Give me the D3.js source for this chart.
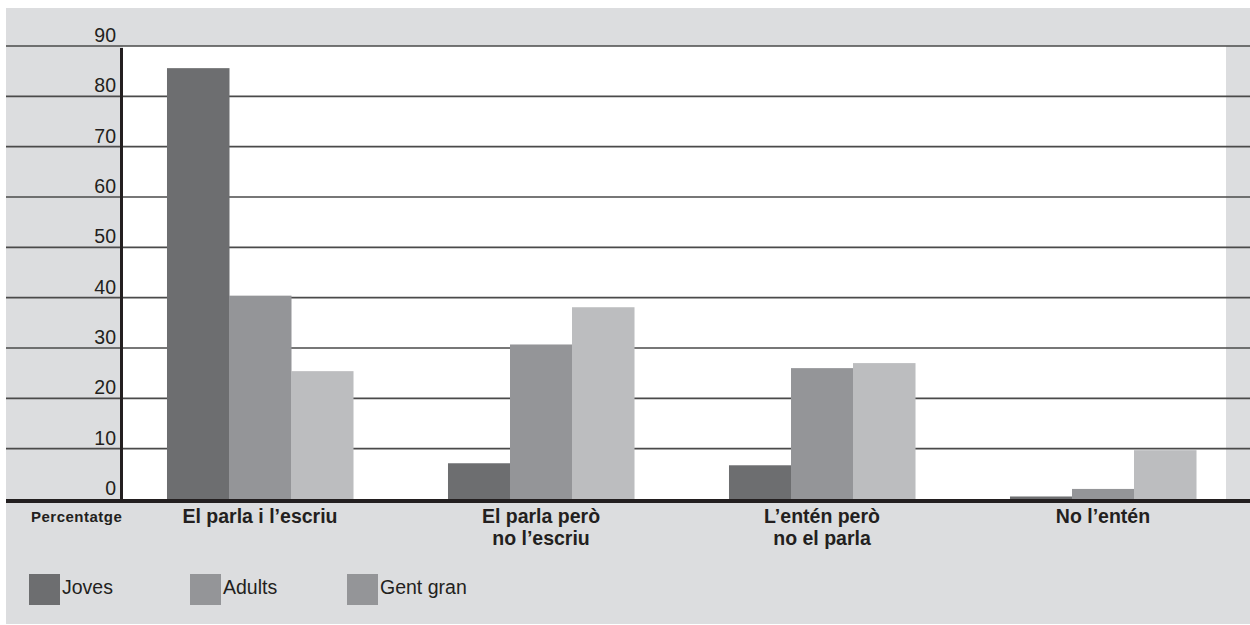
<!DOCTYPE html>
<html>
<head>
<meta charset="utf-8">
<script src="https://cdn.jsdelivr.net/npm/d3@7"></script>
<style>
  html, body { margin: 0; padding: 0; background: #ffffff; }
  svg { display: block; }
</style>
</head>
<body>
<svg id="chart" width="1250" height="625"></svg>
<script>
// ---- Data ----
const categories = [
  ["El parla i l\u2019escriu"],
  ["El parla però", "no l\u2019escriu"],
  ["L\u2019entén però", "no el parla"],
  ["No l\u2019entén"]
];
const series = ["Joves", "Adults", "Gent gran"];
const joves    = [85.6, 7.1, 6.7, 0.5];
const adults   = [40.4, 30.7, 26.0, 2.0];
const gentGran = [25.4, 38.1, 27.0, 9.7];
const yTicks = [0, 10, 20, 30, 40, 50, 60, 70, 80, 90];
const axisLabel = "Percentatge";

const barColors = ["#6d6e70", "#949598", "#bcbdbf"];
const legendColors = ["#6d6e70", "#949598", "#949598"];

const values = [joves, adults, gentGran];

// ---- Layout ----
const svg = d3.select("#chart");
const W = 1250, H = 625;
const bgLeft = 6, bgTop = 8, bgBottom = 624;
const plotLeft = 123, plotRight = 1226, plotTop = 46, plotBottom = 499;

const y = d3.scaleLinear().domain([0, 90]).range([plotBottom, plotTop]);
const x0 = d3.scaleBand()
  .domain(d3.range(categories.length))
  .range([119.5, 1243.5])
  .paddingInner(0.338)
  .paddingOuter(0.169);
const x1 = d3.scaleBand()
  .domain(d3.range(series.length))
  .range([0, x0.bandwidth()])
  .padding(0);

// background
svg.append("rect")
  .attr("x", bgLeft).attr("y", bgTop)
  .attr("width", W - bgLeft).attr("height", bgBottom - bgTop)
  .attr("fill", "#dcdddf");

// white plot area
svg.append("rect")
  .attr("x", plotLeft).attr("y", plotTop)
  .attr("width", plotRight - plotLeft).attr("height", plotBottom - plotTop)
  .attr("fill", "#ffffff");

// gridlines
svg.append("g").selectAll("line")
  .data(yTicks.filter(d => d > 0))
  .join("line")
  .attr("x1", bgLeft).attr("x2", W)
  .attr("y1", d => y(d)).attr("y2", d => y(d))
  .attr("stroke", "#4a4a4a")
  .attr("stroke-width", 1.6);

// tick labels
svg.append("g").selectAll("text")
  .data(yTicks)
  .join("text")
  .attr("x", 116)
  .attr("y", d => y(d) - 4)
  .attr("text-anchor", "end")
  .attr("font-family", "Liberation Sans, Arial, sans-serif")
  .attr("font-size", 19.5)
  .attr("fill", "#231f20")
  .text(d => d);

// bars
const groups = svg.append("g").selectAll("g")
  .data(categories.map((c, i) => i))
  .join("g")
  .attr("transform", i => `translate(${x0(i)},0)`);

groups.selectAll("rect")
  .data(i => series.map((s, j) => ({ j, v: values[j][i] })))
  .join("rect")
  .attr("x", d => x1(d.j))
  .attr("width", x1.bandwidth() + 0.5)
  .attr("y", d => y(d.v))
  .attr("height", d => y(0) - y(d.v))
  .attr("fill", d => barColors[d.j]);

// vertical axis line
svg.append("line")
  .attr("x1", 121.5).attr("x2", 121.5)
  .attr("y1", plotTop + 2).attr("y2", plotBottom)
  .attr("stroke", "#231f20")
  .attr("stroke-width", 3);

// baseline
svg.append("line")
  .attr("x1", bgLeft).attr("x2", W)
  .attr("y1", plotBottom + 2).attr("y2", plotBottom + 2)
  .attr("stroke", "#231f20")
  .attr("stroke-width", 4);

// category labels
const catLabels = svg.append("g").selectAll("text")
  .data(categories.map((c, i) => ({ c, i })))
  .join("text")
  .attr("text-anchor", "middle")
  .attr("font-family", "Liberation Sans, Arial, sans-serif")
  .attr("font-weight", "bold")
  .attr("font-size", 19.5)
  .attr("fill", "#231f20");
catLabels.selectAll("tspan")
  .data(d => d.c.map((line, k) => ({ line, k, i: d.i })))
  .join("tspan")
  .attr("x", d => x0(d.i) + x0.bandwidth() / 2)
  .attr("y", d => 523 + d.k * 22)
  .text(d => d.line);

// axis label
svg.append("text")
  .attr("x", 31).attr("y", 522)
  .attr("font-family", "Liberation Sans, Arial, sans-serif")
  .attr("font-weight", "bold")
  .attr("font-size", 15)
  .attr("letter-spacing", 0.5)
  .attr("fill", "#231f20")
  .text(axisLabel);

// legend
const legendX = [29, 190, 347];
const leg = svg.append("g").selectAll("g")
  .data(series.map((s, j) => ({ s, j })))
  .join("g")
  .attr("transform", d => `translate(${legendX[d.j]},574)`);
leg.append("rect")
  .attr("width", 31).attr("height", 31)
  .attr("fill", d => legendColors[d.j]);
leg.append("text")
  .attr("x", 33).attr("y", 20)
  .attr("font-family", "Liberation Sans, Arial, sans-serif")
  .attr("font-size", 19.5)
  .attr("fill", "#231f20")
  .text(d => d.s);
</script>
</body>
</html>
